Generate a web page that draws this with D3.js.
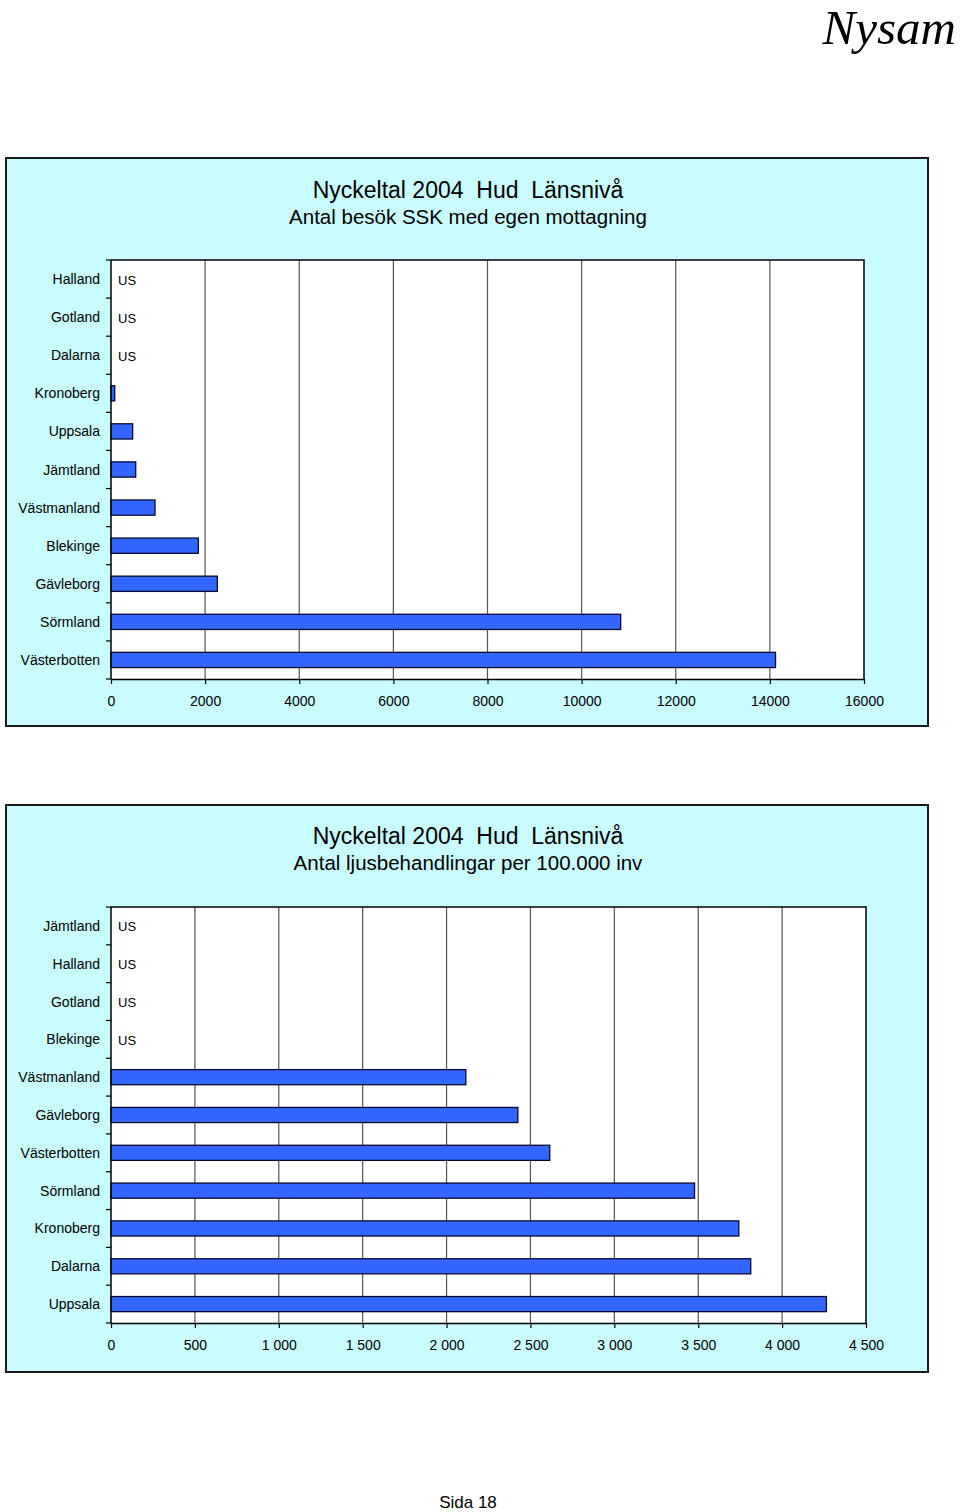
<!DOCTYPE html>
<html>
<head>
<meta charset="utf-8">
<script src="https://cdn.jsdelivr.net/npm/d3@7"></script>
<style>
  html, body { margin: 0; padding: 0; background: #ffffff; }
  svg { display: block; }
</style>
</head>
<body>
<svg id="page" width="960" height="1512"></svg>
<script>
// ---------- Data ----------
const title1 = "Nyckeltal 2004  Hud  Länsnivå";
const subtitle1 = "Antal besök SSK med egen mottagning";
const categories1 = ["Halland", "Gotland", "Dalarna", "Kronoberg", "Uppsala", "Jämtland",
                     "Västmanland", "Blekinge", "Gävleborg", "Sörmland", "Västerbotten"];
const values1 = [null, null, null, 80, 460, 525, 935, 1855, 2260, 10830, 14120];
const ticks1 = [0, 2000, 4000, 6000, 8000, 10000, 12000, 14000, 16000];
const tickLabels1 = ["0", "2000", "4000", "6000", "8000", "10000", "12000", "14000", "16000"];

const title2 = "Nyckeltal 2004  Hud  Länsnivå";
const subtitle2 = "Antal ljusbehandlingar per 100.000 inv";
const categories2 = ["Jämtland", "Halland", "Gotland", "Blekinge", "Västmanland", "Gävleborg",
                     "Västerbotten", "Sörmland", "Kronoberg", "Dalarna", "Uppsala"];
const values2 = [null, null, null, null, 2115, 2425, 2615, 3478, 3742, 3813, 4264];
const ticks2 = [0, 500, 1000, 1500, 2000, 2500, 3000, 3500, 4000, 4500];
const tickLabels2 = ["0", "500", "1 000", "1 500", "2 000", "2 500", "3 000", "3 500", "4 000", "4 500"];

const missingLabel = "US";
const pageHeader = "Nysam";
const pageFooter = "Sida 18";

// ---------- Drawing ----------
const svg = d3.select("#page");
const FONT = "'Liberation Sans', Arial, Helvetica, sans-serif";

svg.append("text")
  .attr("x", 956).attr("y", 44)
  .attr("text-anchor", "end")
  .attr("font-family", "'Liberation Serif', 'Times New Roman', serif")
  .attr("font-style", "italic")
  .attr("font-size", 49)
  .attr("fill", "#000")
  .text(pageHeader);

svg.append("text")
  .attr("x", 468).attr("y", 1508)
  .attr("text-anchor", "middle")
  .attr("font-family", FONT)
  .attr("font-size", 17)
  .attr("fill", "#000")
  .text(pageFooter);

function drawChart(cfg) {
  const g = svg.append("g");
  // outer frame
  g.append("rect")
    .attr("x", cfg.box.x).attr("y", cfg.box.y)
    .attr("width", cfg.box.w).attr("height", cfg.box.h)
    .attr("fill", "#C8FCFF")
    .attr("stroke", "#1a1a1a").attr("stroke-width", 2);

  // titles
  g.append("text")
    .attr("x", cfg.titleX).attr("y", cfg.titleY)
    .attr("text-anchor", "middle")
    .attr("font-family", FONT).attr("font-size", 23)
    .attr("fill", "#000")
    .attr("xml:space", "preserve")
    .style("white-space", "pre")
    .text(cfg.title);
  g.append("text")
    .attr("x", cfg.titleX).attr("y", cfg.titleY + 26)
    .attr("text-anchor", "middle")
    .attr("font-family", FONT).attr("font-size", 20.5)
    .attr("fill", "#000")
    .text(cfg.subtitle);

  const p = cfg.plot;
  const x = d3.scaleLinear().domain([cfg.ticks[0], cfg.ticks[cfg.ticks.length - 1]])
    .range([p.x0, p.x1]);
  const y = d3.scaleBand().domain(cfg.categories).range([p.y0, p.y1]).padding(0);
  const step = y.step();
  const barH = step * 0.4;

  // plot background
  g.append("rect")
    .attr("x", p.x0).attr("y", p.y0)
    .attr("width", p.x1 - p.x0).attr("height", p.y1 - p.y0)
    .attr("fill", "#ffffff");

  // gridlines
  g.append("g").selectAll("line")
    .data(cfg.ticks.slice(1, -1))
    .join("line")
    .attr("x1", d => x(d)).attr("x2", d => x(d))
    .attr("y1", p.y0).attr("y2", p.y1)
    .attr("stroke", "#555").attr("stroke-width", 1.2);

  // bars
  const data = cfg.categories.map((c, i) => ({ c, v: cfg.values[i] }));
  g.append("g").selectAll("rect")
    .data(data.filter(d => d.v !== null))
    .join("rect")
    .attr("x", x(0))
    .attr("y", d => y(d.c) + (step - barH) / 2)
    .attr("width", d => x(d.v) - x(0))
    .attr("height", barH)
    .attr("fill", "#3366FF")
    .attr("stroke", "#0a0a30").attr("stroke-width", 1.3);

  // US labels
  g.append("g").selectAll("text")
    .data(data.filter(d => d.v === null))
    .join("text")
    .attr("x", x(0) + 7)
    .attr("y", d => y(d.c) + step / 2 + 5.5)
    .attr("font-family", FONT).attr("font-size", 13)
    .attr("fill", "#000")
    .text(missingLabel);

  // plot frame top/right
  g.append("path")
    .attr("d", `M${p.x0},${p.y0}H${p.x1}V${p.y1}`)
    .attr("fill", "none").attr("stroke", "#000").attr("stroke-width", 1.5);

  // x axis
  const xAxis = d3.axisBottom(x)
    .tickValues(cfg.ticks)
    .tickFormat((d, i) => cfg.tickLabels[i])
    .tickSizeInner(5).tickSizeOuter(0).tickPadding(12);
  const xa = g.append("g").attr("transform", `translate(0,${p.y1})`).call(xAxis);
  xa.select(".domain").attr("stroke", "#000").attr("stroke-width", 1.5);
  xa.selectAll(".tick line").attr("stroke", "#000").attr("stroke-width", 1.2);
  xa.selectAll(".tick text").attr("font-family", FONT).attr("font-size", 14).attr("fill", "#000");

  // y axis: boundary ticks + labels
  const ya = g.append("g");
  ya.append("line")
    .attr("x1", p.x0).attr("x2", p.x0).attr("y1", p.y0).attr("y2", p.y1)
    .attr("stroke", "#000").attr("stroke-width", 1.5);
  const bounds = cfg.categories.map(c => y(c)).concat([p.y1]);
  ya.selectAll("line.tk")
    .data(bounds)
    .join("line")
    .attr("class", "tk")
    .attr("x1", p.x0 - 5).attr("x2", p.x0)
    .attr("y1", d => d).attr("y2", d => d)
    .attr("stroke", "#000").attr("stroke-width", 1.2);
  ya.selectAll("text")
    .data(cfg.categories)
    .join("text")
    .attr("x", p.x0 - 11)
    .attr("y", d => y(d) + step / 2 + 5)
    .attr("text-anchor", "end")
    .attr("font-family", FONT).attr("font-size", 14)
    .attr("fill", "#000")
    .text(d => d);
}

drawChart({
  box: { x: 6, y: 158, w: 922, h: 568 },
  titleX: 468, titleY: 198,
  title: title1, subtitle: subtitle1,
  plot: { x0: 111, x1: 864, y0: 260, y1: 679 },
  categories: categories1, values: values1,
  ticks: ticks1, tickLabels: tickLabels1
});

drawChart({
  box: { x: 6, y: 805, w: 922, h: 567 },
  titleX: 468, titleY: 844,
  title: title2, subtitle: subtitle2,
  plot: { x0: 111, x1: 866, y0: 907, y1: 1323 },
  categories: categories2, values: values2,
  ticks: ticks2, tickLabels: tickLabels2
});
</script>
</body>
</html>
